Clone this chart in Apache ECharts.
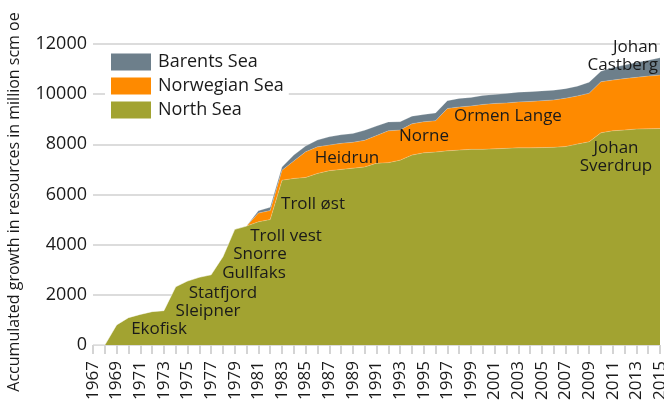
<!DOCTYPE html>
<html>
<head>
<meta charset="utf-8">
<script src="https://cdn.jsdelivr.net/npm/echarts@6/dist/echarts.min.js"></script>
<style>
  html, body { margin: 0; padding: 0; background: #fff; }
  #chart { width: 664px; height: 403px; }
</style>
</head>
<body>
<div id="chart"></div>
<script>
var years = [];
for (var y = 1967; y <= 2015; y++) years.push(String(y));

// accumulated growth, million scm oe
var northSea = [0, 0, 800, 1090, 1220, 1330, 1370, 2320, 2550, 2700,
	2800, 3520, 4610, 4740, 4910, 5000, 6570, 6640, 6680, 6840,
	6950, 7000, 7050, 7100, 7250, 7270, 7370, 7570, 7660, 7690,
	7740, 7770, 7800, 7800, 7820, 7840, 7860, 7860, 7870, 7880,
	7910, 8010, 8100, 8460, 8540, 8570, 8610, 8620, 8630];
var norwegianSea = [0, 0, 0, 0, 0, 0, 0, 0, 0, 0,
	0, 0, 0, 0, 350, 360, 400, 700, 1020, 1060,
	1020, 1040, 1030, 1060, 1100, 1270, 1200, 1250, 1240, 1250,
	1690, 1720, 1730, 1790, 1810, 1810, 1830, 1850, 1870, 1890,
	1930, 1920, 1940, 2040, 2020, 2050, 2060, 2100, 2130];
var barentsSea = [0, 0, 0, 0, 0, 0, 0, 0, 0, 0,
	0, 0, 0, 0, 90, 130, 130, 230, 230, 270,
	330, 340, 350, 400, 380, 350, 330, 300, 290, 310,
	310, 340, 340, 360, 360, 380, 390, 390, 390, 390,
	380, 390, 440, 410, 500, 540, 590, 630, 690];

var fieldNames = ['Ekofisk', 'Sleipner', 'Statfjord', 'Gullfaks', 'Snorre', 'Troll vest',
	'Troll øst', 'Heidrun', 'Norne', 'Ormen Lange', 'Johan\nSverdrup', 'Johan\nCastberg'];

var FONT = '"Open Sans", "Noto Sans", sans-serif';

var chart = echarts.init(document.getElementById('chart'));

// where each field name sits on the picture
var fieldPos = [
	[159, 329, 'center'], [208, 311, 'center'], [223, 293, 'center'], [254, 273, 'center'],
	[260, 254, 'center'], [286, 236, 'center'], [313, 204, 'center'], [347, 158, 'center'],
	[424, 136, 'center'], [508, 116, 'center'], [616, 157, 'center'], [658, 56, 'right']
];
var graphics = fieldNames.map(function(name, i) {
	return {
		type: 'text',
		x: fieldPos[i][0],
		y: fieldPos[i][1],
		z: 100,
		style: {
			text: name,
			fill: '#1a1a1a',
			font: '17px ' + FONT,
			align: fieldPos[i][2],
			verticalAlign: 'middle',
			lineHeight: 18
		}
	};
});
// y axis title, placed by hand so it sits like the original
graphics.push({
	type: 'text',
	x: 14,
	y: 202,
	rotation: Math.PI / 2,
	style: {
		text: 'Accumulated growth in resources in million scm oe',
		fill: '#1a1a1a',
		font: '16px ' + FONT,
		align: 'center',
		verticalAlign: 'middle'
	}
});

function areaSeries(name, data, color) {
	return {
		name: name,
		type: 'line',
		stack: 'total',
		data: data,
		symbol: 'none',
		lineStyle: { width: 0.6, color: 'rgba(255,255,255,0.35)' },
		areaStyle: { color: color, opacity: 1 },
		itemStyle: { color: color }
	};
}

var option = {
	animation: false,
	textStyle: { fontFamily: FONT },
	grid: { left: 93, right: 4, top: 44, bottom: 58, containLabel: false, outerBoundsMode: 'none' },
	legend: {
		orient: 'vertical',
		left: 105,
		top: 48,
		padding: [5, 5, 5, 6],
		backgroundColor: '#fff',
		icon: 'rect',
		itemWidth: 40,
		itemHeight: 17,
		itemGap: 6,
		selectedMode: false,
		data: ['Barents Sea', 'Norwegian Sea', 'North Sea'],
		textStyle: { fontSize: 18, color: '#1a1a1a', fontFamily: FONT, padding: [0, 0, 0, 2] }
	},
	xAxis: {
		type: 'category',
		data: years,
		boundaryGap: false,
		axisLine: { show: false },
		axisTick: { show: true, interval: 0, length: 9, lineStyle: { color: '#d4d4d4', width: 2 } },
		axisLabel: { interval: 1, rotate: 90, margin: 16, fontSize: 17, color: '#1a1a1a', fontFamily: FONT },
		z: 10
	},
	yAxis: {
		type: 'value',
		min: 0,
		max: 12000,
		interval: 2000,
		axisLine: { show: false },
		axisTick: { show: false },
		axisLabel: {
			fontSize: 18, color: '#1a1a1a', margin: 6, fontFamily: FONT,
			formatter: function(v) { return String(v); }
		},
		splitLine: { lineStyle: { color: '#dcdcdc', width: 2 } }
	},
	series: [
		areaSeries('North Sea', northSea, '#a2a331'),
		areaSeries('Norwegian Sea', norwegianSea, '#fe8a00'),
		areaSeries('Barents Sea', barentsSea, '#6d7f8b')
	],
	graphic: graphics
};
chart.setOption(option);
</script>
</body>
</html>
